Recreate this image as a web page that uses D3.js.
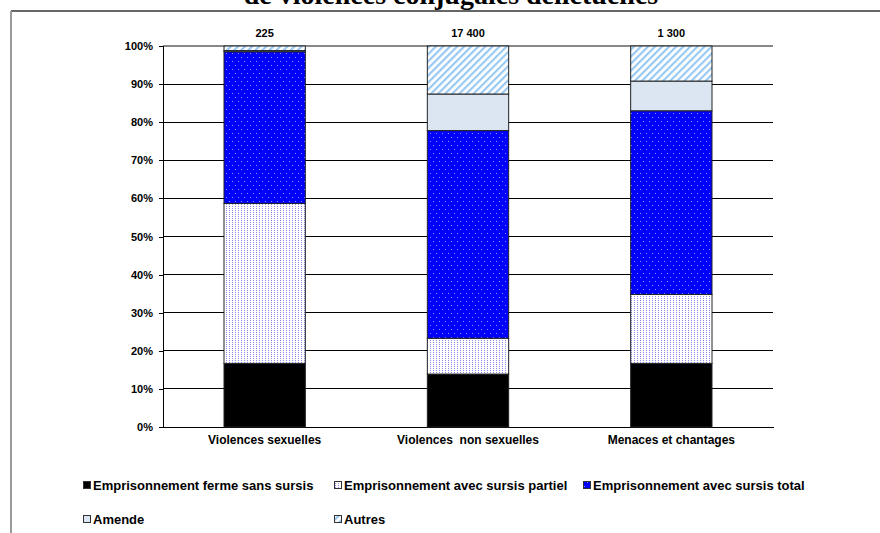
<!DOCTYPE html>
<html>
<head>
<meta charset="utf-8">
<script src="https://cdn.jsdelivr.net/npm/d3@7"></script>
<style>
	body { margin: 0; background: #fff; }
	svg text { font-family: "Liberation Sans", Arial, sans-serif; font-weight: bold; fill: #000; }
	svg text.title { font-family: "Liberation Serif", "Times New Roman", serif; }
</style>
</head>
<body>
<div class="box"></div>
<script>
var categories = ['Violences sexuelles', 'Violences  non sexuelles', 'Menaces et chantages'];
var totals = ['225', '17 400', '1 300'];

var seriesNames = [
	'Emprisonnement ferme sans sursis',
	'Emprisonnement avec sursis partiel',
	'Emprisonnement avec sursis total',
	'Amende',
	'Autres'
];

// share of each measure, in %
var ferme   = [16.7, 13.9, 16.7];
var partiel = [42.0,  9.4, 18.1];
var total   = [39.8, 54.5, 48.2];
var amende  = [ 0.3,  9.6,  7.8];
var autres  = [ 1.2, 12.6,  9.2];

var yTicks = [0, 10, 20, 30, 40, 50, 60, 70, 80, 90, 100];

var width = 880, height = 533;
var svg = d3.select('.box')
	.append('svg')
	.attr('width', width)
	.attr('height', height);

// patterns
var defs = svg.append('defs');

var pPartiel = defs.append('pattern')
	.attr('id', 'p-partiel')
	.attr('patternUnits', 'userSpaceOnUse')
	.attr('width', 3).attr('height', 2);
pPartiel.append('rect').attr('width', 3).attr('height', 2).attr('fill', '#fff');
pPartiel.append('rect').attr('x', 1).attr('y', 0).attr('width', 1).attr('height', 1).attr('fill', '#8a8af2');

var pTotal = defs.append('pattern')
	.attr('id', 'p-total')
	.attr('patternUnits', 'userSpaceOnUse')
	.attr('width', 6).attr('height', 8);
pTotal.append('rect').attr('width', 6).attr('height', 8).attr('fill', '#0000ff');
pTotal.append('rect').attr('x', 1).attr('y', 1).attr('width', 1).attr('height', 1).attr('fill', '#8c8cff');
pTotal.append('rect').attr('x', 4).attr('y', 5).attr('width', 1).attr('height', 1).attr('fill', '#8c8cff');

var pAutres = defs.append('pattern')
	.attr('id', 'p-autres')
	.attr('patternUnits', 'userSpaceOnUse')
	.attr('width', 5).attr('height', 5)
	.attr('patternTransform', 'rotate(45)');
pAutres.append('rect').attr('width', 5).attr('height', 5).attr('fill', '#fff');
pAutres.append('rect').attr('x', 0).attr('y', 0).attr('width', 2.2).attr('height', 5).attr('fill', '#99c9f3');

var fills = ['#000', 'url(#p-partiel)', 'url(#p-total)', '#dce6f2', 'url(#p-autres)'];

// frame and title (title's first line lies above the picture)
svg.append('text')
	.attr('class', 'title')
	.attr('x', 451)
	.attr('y', 4)
	.attr('text-anchor', 'middle')
	.style('font-size', '28px')
	.text('de violences conjugales délictuelles');

svg.append('line')
	.attr('x1', 11).attr('y1', 11).attr('x2', width).attr('y2', 11)
	.style('stroke', '#333').style('stroke-width', 1.5);
svg.append('line')
	.attr('x1', 11).attr('y1', 11).attr('x2', 11).attr('y2', height)
	.style('stroke', '#999').style('stroke-width', 2);

// scales
var x = d3.scaleBand()
	.domain(categories)
	.range([163, 773])
	.paddingInner(0.6)
	.paddingOuter(0.3);

var y = d3.scaleLinear()
	.domain([0, 100])
	.range([427, 46]);

// gridlines
svg.selectAll('line.grid')
	.data(yTicks.slice(1))
	.enter()
	.append('line')
		.attr('class', 'grid')
		.attr('x1', 163)
		.attr('x2', 773)
		.attr('y1', function(d) { return y(d); })
		.attr('y2', function(d) { return y(d); })
		.style('stroke', function(d) { return d === 100 ? '#888' : '#000'; })
		.style('stroke-width', function(d) { return d === 100 ? 2 : 1; })
		.attr('shape-rendering', 'crispEdges');

// y axis
var yAxis = svg.append('g')
	.attr('transform', 'translate(163,0)')
	.call(d3.axisLeft(y)
		.tickValues(yTicks)
		.tickSize(4)
		.tickPadding(6)
		.tickFormat(function(d) { return d + '%'; }));
yAxis.select('.domain').attr('stroke', '#000').attr('shape-rendering', 'crispEdges');
yAxis.selectAll('.tick line').attr('stroke', '#000').attr('shape-rendering', 'crispEdges');
yAxis.selectAll('text').style('font-size', '11px').style('font-family', '"Liberation Sans", Arial, sans-serif').style('font-weight', 'bold');

// x axis
var xAxis = svg.append('g')
	.attr('transform', 'translate(0,427)')
	.call(d3.axisBottom(x).tickSize(0).tickPadding(8));
xAxis.select('.domain').attr('stroke', '#000').attr('shape-rendering', 'crispEdges');
xAxis.selectAll('text')
	.style('font-size', '12px')
	.style('font-family', '"Liberation Sans", Arial, sans-serif')
	.style('font-weight', 'bold')
	.style('white-space', 'pre');

// stacked bars
var rows = categories.map(function(c, i) {
	return {cat: c, s0: ferme[i], s1: partiel[i], s2: total[i], s3: amende[i], s4: autres[i]};
});
var stack = d3.stack().keys(['s0', 's1', 's2', 's3', 's4']);
var layers = stack(rows);

svg.selectAll('g.layer')
	.data(layers)
	.enter()
	.append('g')
		.attr('class', 'layer')
		.style('fill', function(d, i) { return fills[i]; })
	.selectAll('rect')
	.data(function(d) { return d; })
	.enter()
	.append('rect')
		.attr('x', function(d) { return x(d.data.cat); })
		.attr('y', function(d) { return y(d[1]); })
		.attr('width', x.bandwidth())
		.attr('height', function(d) { return y(d[0]) - y(d[1]); })
		.style('stroke', '#222')
		.style('stroke-width', 1);

// totals above the bars
svg.selectAll('text.total')
	.data(totals)
	.enter()
	.append('text')
		.attr('class', 'total')
		.attr('x', function(d, i) { return x(categories[i]) + x.bandwidth() / 2; })
		.attr('y', 37)
		.attr('text-anchor', 'middle')
		.style('font-size', '11px')
		.text(function(d) { return d; });

// legend
var legendPos = [
	{x: 83, y: 485}, {x: 334, y: 485}, {x: 583, y: 485},
	{x: 83, y: 519}, {x: 334, y: 519}
];

var legend = svg.selectAll('g.legend')
	.data(seriesNames)
	.enter()
	.append('g')
		.attr('class', 'legend')
		.attr('transform', function(d, i) { return 'translate(' + legendPos[i].x + ',' + legendPos[i].y + ')'; });

legend.append('rect')
	.attr('x', 0.5)
	.attr('y', -3.5)
	.attr('width', 7)
	.attr('height', 7)
	.style('fill', function(d, i) { return fills[i]; })
	.style('stroke', '#333')
	.style('stroke-width', 1);

legend.append('text')
	.attr('x', 10)
	.attr('y', 4.5)
	.style('font-size', '13px')
	.text(function(d) { return d; });
</script>
</body>
</html>
